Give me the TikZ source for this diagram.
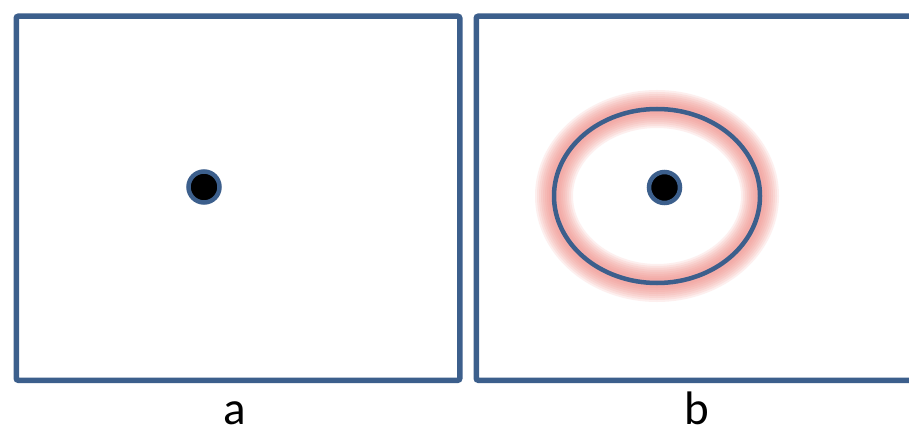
\documentclass[tikz,border=0pt]{standalone}
\usepackage{fontspec}
\setmainfont{Carlito}
\usetikzlibrary{shapes.geometric}
\definecolor{frame}{RGB}{60,95,140}
\definecolor{glow}{RGB}{240,135,128}
\tikzset{
  panel/.style={draw=frame, line width=5.5pt, rounded corners=2pt, rectangle, anchor=north west, inner sep=0pt},
  dot/.style={circle, fill=black, draw=frame, line width=4.5pt, minimum size=31pt, inner sep=0pt},
  ring/.style={ellipse, draw=frame, line width=4.5pt, inner sep=0pt},
  lbl/.style={font=\fontsize{47}{54}\selectfont, anchor=base, inner sep=0pt}
}
\begin{document}
\begin{tikzpicture}[x=1pt,y=-1pt]
\useasboundingbox (0,0) rectangle (909,427);
\clip (0,0) rectangle (909,427);
\fill[white] (0,0) rectangle (909,427);
\node[panel, minimum width=443.5pt, minimum height=364pt] (pa) at (13.5,13.5) {};
\node[panel, minimum width=470pt, minimum height=364pt] (pb) at (473.5,13.5) {};
\foreach \w in {38,34,...,8}
  \draw[glow, line width=\w pt, opacity=0.13] (657,196) ellipse [x radius=103, y radius=87];
\node[ring, minimum width=206pt, minimum height=174pt] (rb) at (657,196) {};
\node[dot] (da) at (204,187) {};
\node[dot] (db) at (664.5,187.5) {};
\node[lbl] (la) at (235,424) {a};
\node[lbl] (lb) at (697,424) {b};
\end{tikzpicture}
\end{document}
